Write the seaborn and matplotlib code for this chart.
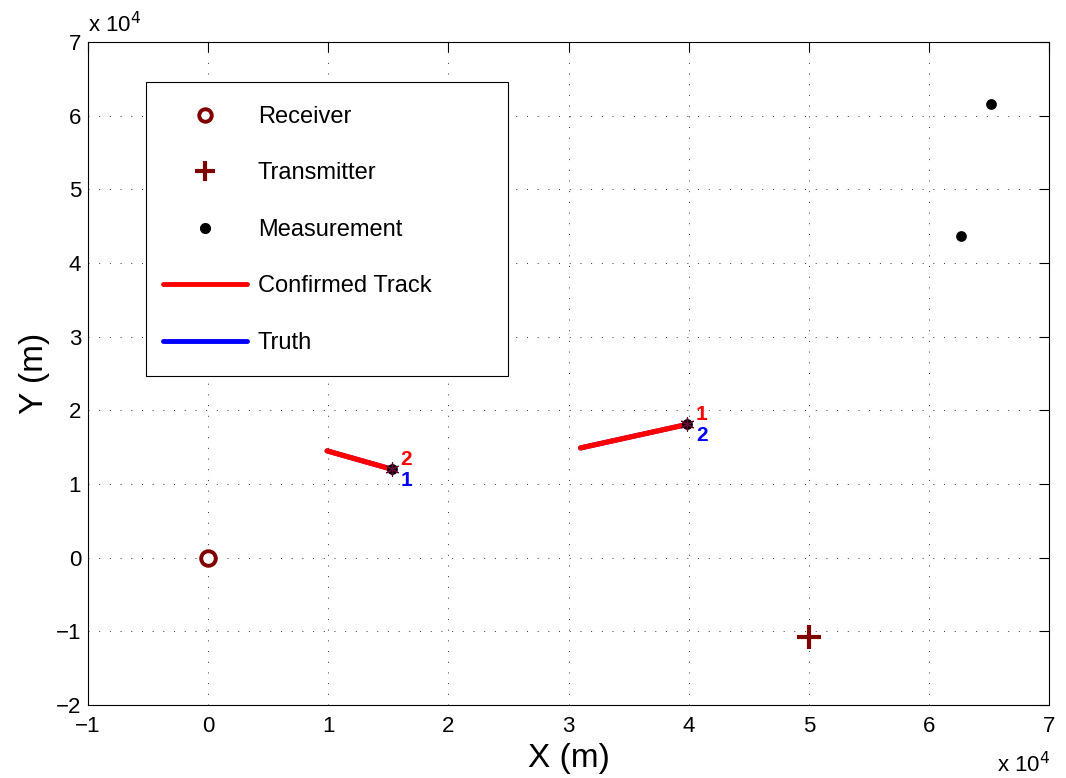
import matplotlib
matplotlib.use("Agg")
import matplotlib.pyplot as plt
import seaborn as sns
import pandas as pd
from matplotlib.lines import Line2D
from matplotlib.patches import Rectangle

# Data (meters)
receiver_x = [0.0]
receiver_y = [0.0]
transmitter_x = [50000.0]
transmitter_y = [-10800.0]
meas_x = [62700.0, 65200.0, 15300.0, 39900.0]
meas_y = [43700.0, 61600.0, 12000.0, 18100.0]
track1_x = [31000.0, 39900.0]
track1_y = [14900.0, 18100.0]
track2_x = [9900.0, 15300.0]
track2_y = [14500.0, 12000.0]
truth1_x = [31000.0, 39900.0]
truth1_y = [14900.0, 18100.0]
truth2_x = [9900.0, 15300.0]
truth2_y = [14500.0, 12000.0]
track_labels = ["1", "2"]
truth_labels = ["2", "1"]
xticks = [-1, 0, 1, 2, 3, 4, 5, 6, 7]
yticks = [-2, -1, 0, 1, 2, 3, 4, 5, 6, 7]
legend_labels = ["Receiver", "Transmitter", "Measurement", "Confirmed Track", "Truth"]

sns.set_style("white")
plt.rcParams['font.family'] = ['Liberation Sans', 'DejaVu Sans']
plt.rcParams['text.color'] = 'black'
plt.rcParams['axes.labelcolor'] = 'black'
plt.rcParams['xtick.color'] = 'black'
plt.rcParams['ytick.color'] = 'black'

fig = plt.figure(figsize=(10.66, 7.78), dpi=100)
ax = fig.add_axes([0.0826, 0.0938, 0.9015, 0.8522])

dark_red = "#800000"

# truth lines (underneath)
for tx, ty in [(truth1_x, truth1_y), (truth2_x, truth2_y)]:
    df = pd.DataFrame({"x": tx, "y": ty})
    sns.lineplot(data=df, x="x", y="y", ax=ax, color="blue", lw=3.5, sort=False)
# confirmed tracks
for tx, ty in [(track1_x, track1_y), (track2_x, track2_y)]:
    df = pd.DataFrame({"x": tx, "y": ty})
    sns.lineplot(data=df, x="x", y="y", ax=ax, color="red", lw=3.8, sort=False)

# measurements
sns.scatterplot(x=meas_x, y=meas_y, ax=ax, color="black", s=60, edgecolor="black", linewidth=0, zorder=5)
ax.scatter([track1_x[-1], track2_x[-1]], [track1_y[-1], track2_y[-1]], marker=(6, 2, 0),
           s=90, color="#6b0035", linewidths=0.9, zorder=6)

# receiver / transmitter
sns.scatterplot(x=receiver_x, y=receiver_y, ax=ax, marker="o", s=110, facecolor="white",
                edgecolor=dark_red, linewidth=2.8, zorder=5)
sns.scatterplot(x=transmitter_x, y=transmitter_y, ax=ax, marker="+", s=280, color=dark_red,
                linewidth=3, zorder=5)

# labels
ends = [(track1_x[-1], track1_y[-1]), (track2_x[-1], track2_y[-1])]
for (ex, ey), tl, rl in zip(ends, track_labels, truth_labels):
    ax.text(ex + 700, ey + 1300, tl, color="red", fontsize=15, fontweight="bold",
            ha="left", va="center", zorder=7)
    ax.text(ex + 700, ey - 1500, rl, color="blue", fontsize=15, fontweight="bold",
            ha="left", va="center", zorder=7)

ax.set_xlim(-10000, 70000)
ax.set_ylim(-20000, 70000)
ax.set_xticks([v * 1e4 for v in xticks])
ax.set_yticks([v * 1e4 for v in yticks])
ax.set_xticklabels(["\u2212" + str(-v) if v < 0 else str(v) for v in xticks], fontsize=16)
ax.set_yticklabels(["\u2212" + str(-v) if v < 0 else str(v) for v in yticks], fontsize=16)
ax.tick_params(direction="in", length=7, width=0.8, top=True, right=True)
ax.tick_params(axis="x", pad=8)
ax.tick_params(axis="y", pad=5)
ax.grid(True, linestyle=(0, (1, 10)), color="#333333", linewidth=0.7)
for s in ax.spines.values():
    s.set_visible(True)
    s.set_color("black")
    s.set_linewidth(0.8)

ax.set_xlabel("X (m)", fontsize=24, labelpad=4)
ax.set_ylabel("Y (m)", fontsize=24, labelpad=4)

fig.text(88 / 1066, 1 - 25 / 778, r"x 10$^4$", fontsize=16, ha="left", va="center")
fig.text(997 / 1066, 1 - 765 / 778, r"x 10$^4$", fontsize=16, ha="left", va="center")

# legend box (drawn as a patch to match the wide reference frame)
box = Rectangle((58 / 961, 1 - 334 / 663), 362 / 961, 294 / 663, transform=ax.transAxes,
                facecolor="white", edgecolor="black", linewidth=0.8, zorder=8)
ax.add_patch(box)

handles = [
    Line2D([], [], marker="o", ls="none", mfc="white", mec=dark_red, mew=2.8, ms=9),
    Line2D([], [], marker="+", ls="none", color=dark_red, mew=3, ms=15),
    Line2D([], [], marker="o", ls="none", color="black", ms=7),
    Line2D([], [], color="red", lw=3.5),
    Line2D([], [], color="blue", lw=3.5),
]
leg = ax.legend(handles, legend_labels, loc="upper left", bbox_to_anchor=(75 / 961, 1 - 64 / 663),
                fontsize=17, frameon=False,
                handlelength=3.55, handletextpad=0.47, labelspacing=1.46, borderpad=0,
                borderaxespad=0)
leg.set_zorder(9)

fig.savefig("out.png", dpi=100)
